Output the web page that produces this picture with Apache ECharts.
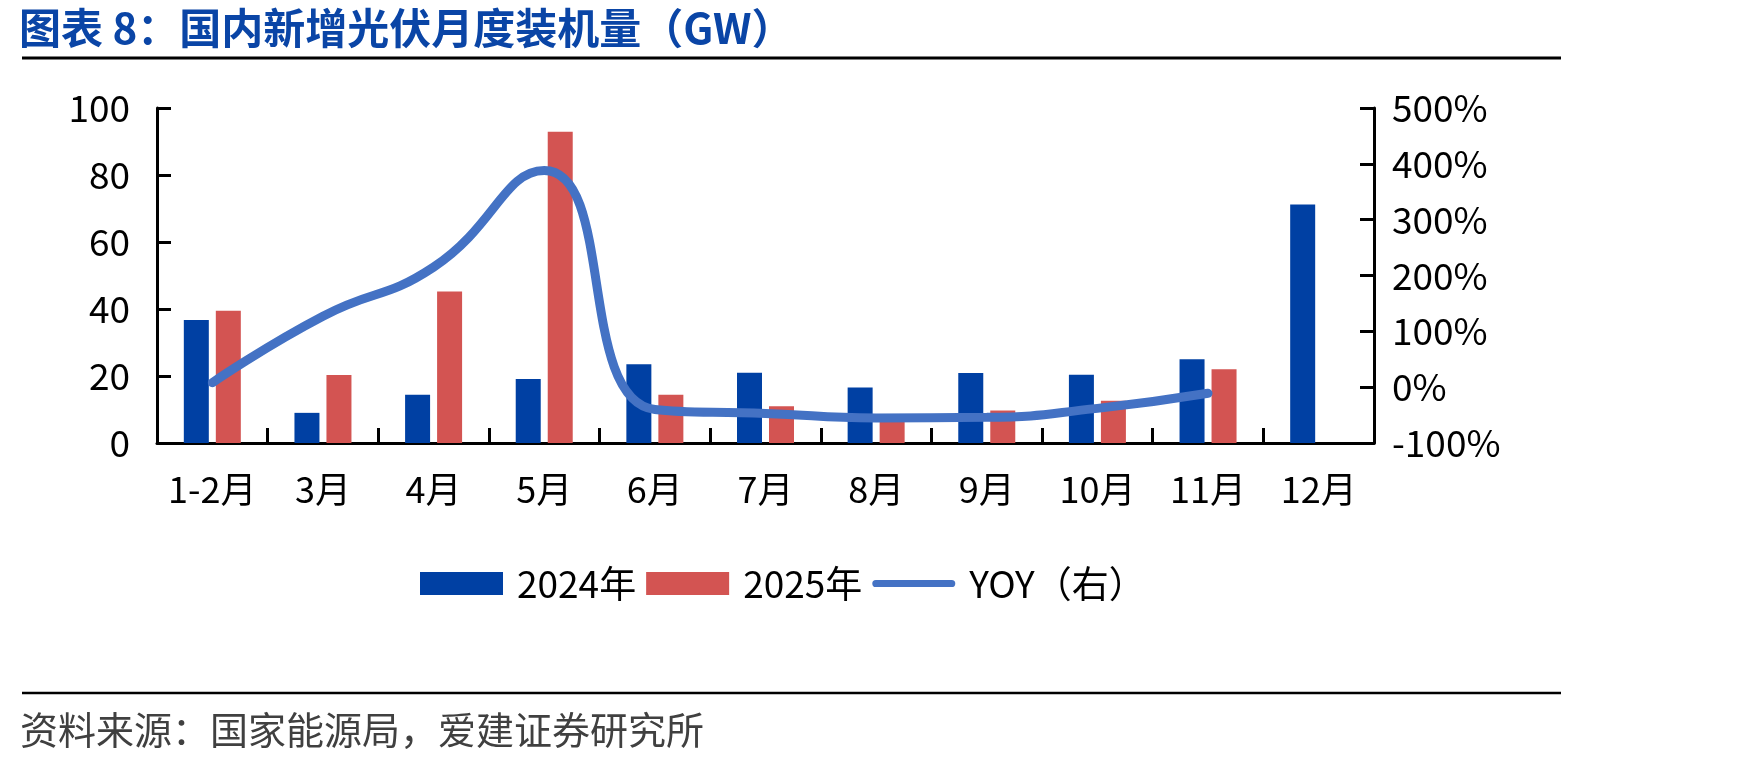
<!DOCTYPE html>
<html>
<head>
<meta charset="utf-8">
<script src="https://cdn.jsdelivr.net/npm/echarts@6/dist/echarts.min.js"></script>
<style>
  html, body { margin: 0; padding: 0; background: #fff; }
  #chart { width: 1748px; height: 764px; }
</style>
</head>
<body>
<div id="chart"></div>
<script>
// data
var months = ['1-2月', '3月', '4月', '5月', '6月', '7月', '8月', '9月', '10月', '11月', '12月'];
var y2024 = [36.7, 9.0, 14.4, 19.1, 23.5, 21.0, 16.6, 20.9, 20.4, 25.0, 71.2];
var y2025 = [39.5, 20.3, 45.2, 92.9, 14.4, 11.0, 7.4, 9.7, 12.6, 22.0, null];
var yoy = [8, 127, 215, 388, -40, -47, -55, -54, -38, -11, null];

var leftTicks = { min: 0, max: 100, interval: 20 };
var rightTicks = { min: -100, max: 500, interval: 100 };

var FONT = "'Noto Sans CJK SC', 'Noto Sans', sans-serif";

var chart = echarts.init(document.getElementById('chart'));

var axisLine = { show: true, lineStyle: { color: '#000', width: 3 } };
var axisTick = { show: true, inside: true, length: 14, lineStyle: { color: '#000', width: 3 } };

// thin rounded bar used as the legend mark of the line series
var lineIcon = 'path://M4,0 L88,0 A4,4 0 0 1 88,8 L4,8 A4,4 0 0 1 4,0 Z';

var option = {
    backgroundColor: '#fff',
    animation: false,
    textStyle: { fontFamily: FONT },
    title: {
        text: '图表 8：国内新增光伏月度装机量（GW）',
        left: 14,
        top: 2,
        textStyle: { fontFamily: FONT, fontSize: 42, fontWeight: 'bold', color: '#0a45a6' }
    },
    legend: {
        left: 415,
        top: 560,
        itemWidth: 83,
        itemHeight: 23,
        itemGap: 10,
        textStyle: { fontFamily: FONT, fontSize: 37, color: '#000', padding: [0, 0, 0, 9] },
        data: [
            { name: '2024年', icon: 'rect' },
            { name: '2025年', icon: 'rect' },
            { name: 'YOY（右）', icon: lineIcon, itemStyle: { color: '#4472c4' } }
        ]
    },
    grid: { left: 157, right: 374, top: 108, bottom: 321, containLabel: false },
    xAxis: {
        type: 'category',
        data: months,
        axisLine: axisLine,
        axisTick: { show: true, inside: true, length: 15, lineStyle: { color: '#000', width: 3 } },
        axisLabel: { color: '#000', fontSize: 36, margin: 28, fontFamily: FONT, interval: 0 },
        splitLine: { show: false }
    },
    yAxis: [
        {
            type: 'value',
            min: leftTicks.min, max: leftTicks.max, interval: leftTicks.interval,
            axisLine: axisLine,
            axisTick: axisTick,
            axisLabel: { color: '#000', fontSize: 37, margin: 27, fontFamily: FONT },
            splitLine: { show: false }
        },
        {
            type: 'value',
            position: 'right',
            min: rightTicks.min, max: rightTicks.max, interval: rightTicks.interval,
            axisLine: axisLine,
            axisTick: axisTick,
            axisLabel: { color: '#000', fontSize: 37, margin: 18, fontFamily: FONT, formatter: '{value}%' },
            splitLine: { show: false }
        }
    ],
    series: [
        {
            name: '2024年',
            type: 'bar',
            data: y2024,
            barWidth: 25,
            barGap: '28%',
            itemStyle: { color: '#0040a3' }
        },
        {
            name: '2025年',
            type: 'bar',
            data: y2025,
            barWidth: 25,
            itemStyle: { color: '#d35452' }
        },
        {
            name: 'YOY（右）',
            type: 'line',
            yAxisIndex: 1,
            data: yoy,
            smooth: 0.5,
            symbol: 'none',
            lineStyle: { color: '#4472c4', width: 9, cap: 'round' },
            itemStyle: { color: '#4472c4' }
        }
    ],
    graphic: [
        {
            type: 'line',
            shape: { x1: 22, y1: 58, x2: 1561, y2: 58 },
            style: { stroke: '#000', lineWidth: 3 }
        },
        {
            type: 'line',
            shape: { x1: 22, y1: 693, x2: 1561, y2: 693 },
            style: { stroke: '#000', lineWidth: 2.5 }
        },
        {
            type: 'text',
            left: 20,
            top: 711,
            style: { text: '资料来源：国家能源局，爱建证券研究所', fontFamily: FONT, fontSize: 38, fill: '#404040' }
        }
    ]
};

chart.setOption(option);
</script>
</body>
</html>
